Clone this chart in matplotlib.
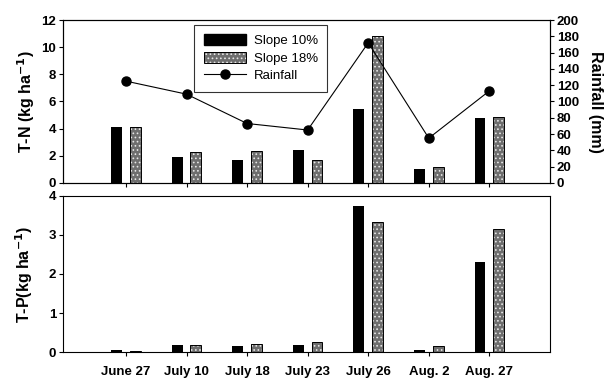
import matplotlib
matplotlib.use("Agg")
import matplotlib.pyplot as plt
import numpy as np
from matplotlib.patches import Patch
from matplotlib.lines import Line2D
from matplotlib.legend_handler import HandlerTuple

plt.rcParams['font.family'] = ['Liberation Sans', 'DejaVu Sans']
plt.rcParams['hatch.linewidth'] = 0.7

dates = ["June 27", "July 10", "July 18", "July 23", "July 26", "Aug. 2", "Aug. 27"]
tn_slope10 = [4.15, 1.9, 1.72, 2.43, 5.43, 1.0, 4.76]
tn_slope18 = [4.15, 2.3, 2.38, 1.69, 10.85, 1.15, 4.84]
rainfall = [125, 109, 73, 65, 172, 55, 113]
tp_slope10 = [0.06, 0.17, 0.16, 0.18, 3.75, 0.06, 2.3]
tp_slope18 = [0.03, 0.19, 0.21, 0.26, 3.33, 0.15, 3.15]

x = np.arange(len(dates))
w = 0.18
off = 0.155

# speckled grey fill: grey face with light dots, then a black outline on top
speckle_fill = dict(facecolor='#6e6e6e', edgecolor='#e6e6e6', hatch='....', linewidth=0)
speckle_edge = dict(fill=False, edgecolor='black', linewidth=0.7)

fig = plt.figure(figsize=(6.09, 3.81), dpi=100)
ax1 = fig.add_axes([0.1034, 0.5197, 0.7996, 0.4278])
ax2 = fig.add_axes([0.1034, 0.0761, 0.7996, 0.4095])


def speckled_bars(ax, xs, vals):
    ax.bar(xs, vals, w, **speckle_fill)
    ax.bar(xs, vals, w, **speckle_edge)


ax1.bar(x - off, tn_slope10, w, color='black')
speckled_bars(ax1, x + off, tn_slope18)
ax1.set_xlim(-1.04, 7.0)
ax1.set_ylim(0, 12)
ax1.set_yticks(np.arange(0, 13, 2))
ax1.set_xticks(x)
ax1.set_xticklabels([])
ax1.set_ylabel("T-N (kg ha$^{\\mathbf{-1}}$)", fontsize=11.5, fontweight='bold', labelpad=3)

axr = ax1.twinx()
axr.plot(x, rainfall, color='black', lw=0.8, marker='o', ms=6.5)
axr.set_ylim(0, 200)
axr.set_yticks(np.arange(0, 201, 20))
axr.set_ylabel("Rainfall (mm)", fontsize=11.5, fontweight='bold', rotation=270, labelpad=17)

ax2.bar(x - off, tp_slope10, w, color='black')
speckled_bars(ax2, x + off, tp_slope18)
ax2.set_xlim(-1.04, 7.0)
ax2.set_ylim(0, 4)
ax2.set_yticks(np.arange(0, 5, 1))
ax2.set_xticks(x)
ax2.set_xticklabels(dates)
ax2.set_ylabel("T-P(kg ha$^{\\mathbf{-1}}$)", fontsize=11.5, fontweight='bold', labelpad=10)

for ax in (ax1, ax2, axr):
    ax.tick_params(direction='out', length=3, width=0.8, labelsize=9.5, pad=2)
    for lab in ax.get_xticklabels() + ax.get_yticklabels():
        lab.set_fontweight('bold')
    for s in ax.spines.values():
        s.set_linewidth(0.8)
ax2.tick_params(axis='x', pad=7)

handles = [Patch(facecolor='black', edgecolor='black'),
           (Patch(**speckle_fill), Patch(**speckle_edge)),
           Line2D([], [], color='black', lw=0.8, marker='o', ms=6.5)]
leg = axr.legend(handles, ["Slope 10%", "Slope 18%", "Rainfall"],
                 handler_map={tuple: HandlerTuple(ndivide=1, pad=0)},
                 loc='upper left', bbox_to_anchor=(0.27, 0.97), fontsize=9.5,
                 frameon=True, fancybox=False, edgecolor='black',
                 handlelength=3.2, handleheight=0.9, borderpad=0.7,
                 labelspacing=0.35, handletextpad=0.6, borderaxespad=0)
leg.get_frame().set_linewidth(0.8)

fig.savefig("out.png", dpi=100)
